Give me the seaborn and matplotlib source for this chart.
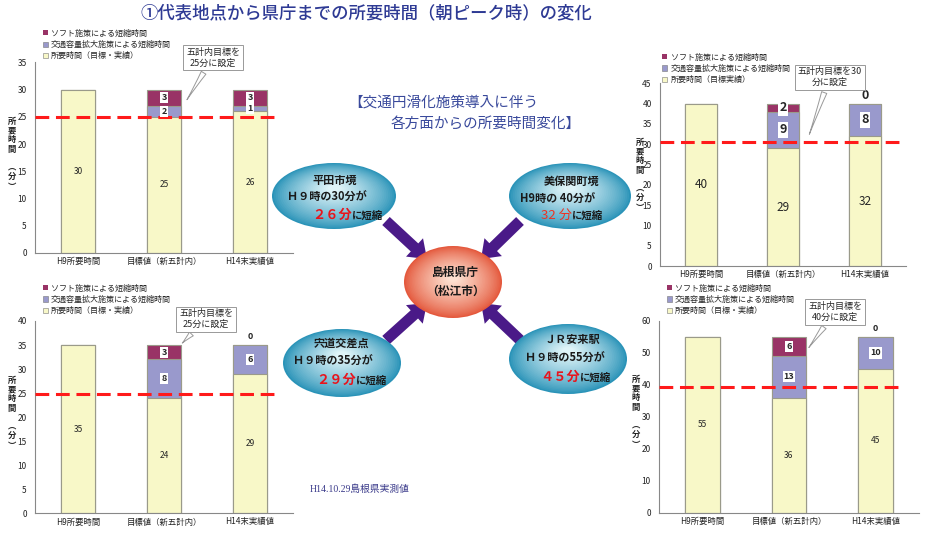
import numpy as np
import pandas as pd
import matplotlib
matplotlib.use("Agg")
import matplotlib.pyplot as plt
import seaborn as sns
from matplotlib.patches import Ellipse, Patch, FancyArrow
from matplotlib.colors import to_rgb

# データ
cats = ["H9所要時間", "目標値（新五計内）", "H14末実績値"]

hirata_base = [30, 25, 26]
hirata_cap = [0, 2, 1]
hirata_soft = [0, 3, 3]
hirata_goal = 25

mihoseki_base = [40, 29, 32]
mihoseki_cap = [0, 9, 8]
mihoseki_soft = [0, 2, 0]
mihoseki_goal = 30.5

shinji_base = [35, 24, 29]
shinji_cap = [0, 8, 6]
shinji_soft = [0, 3, 0]
shinji_goal = 24.8

yasugi_base = [55, 36, 45]
yasugi_cap = [0, 13, 10]
yasugi_soft = [0, 6, 0]
yasugi_goal = 39.3

leg_labels = ["ソフト施策による短縮時間", "交通容量拡大施策による短縮時間", "所要時間（目標・実績）"]

SOFT = "#993366"
CAP = "#9999cc"
BASE = "#f8f8c8"
EDGE = "#9a9a8a"

sns.set_style("white")
plt.rcParams["font.family"] = ["Noto Sans CJK JP", "DejaVu Sans"]

W, H = 931, 533
fig = plt.figure(figsize=(W / 100, H / 100), dpi=100)


def rect(x0, x1, ytop, ybot):
    return [x0 / W, (H - ybot) / H, (x1 - x0) / W, (ybot - ytop) / H]


def draw_chart(r, base, cap, soft, goal, ymax, ystep, note, note_pos, tip, line_end,
               leg_anchor, base_fs=6, seg_fs=6.5, leg3=None):
    ax = fig.add_axes(r)
    df = pd.DataFrame({"cat": cats, "base": base, "cap": cap, "soft": soft})
    df["mid"] = df["base"] + df["cap"]
    df["top"] = df["mid"] + df["soft"]
    for col, c in [("top", SOFT), ("mid", CAP), ("base", BASE)]:
        sns.barplot(data=df, x="cat", y=col, color=c, saturation=1, width=0.4,
                    edgecolor=EDGE, linewidth=0.8, errorbar=None, ax=ax)
    ax.set_xlim(-0.5, 2.5)
    ax.set_ylim(0, ymax)
    ax.set_yticks(np.arange(0, ymax + 1, ystep))
    ax.set_xlabel("")
    ax.set_ylabel("")
    ax.tick_params(axis="both", labelsize=6, length=0, pad=3, colors="#222222")
    ax.set_xticks([-0.5, 0.5, 1.5, 2.5], minor=True)
    ax.tick_params(axis="x", which="minor", length=3, color="#888888")
    ax.tick_params(axis="y", length=3, color="#888888")
    for s in ["top", "right"]:
        ax.spines[s].set_visible(False)
    for s in ["left", "bottom"]:
        ax.spines[s].set_color("#888888")
        ax.spines[s].set_linewidth(0.8)

    ax.axhline(goal, xmax=line_end, color="#ff1a1a", lw=2.2, ls=(0, (4.5, 2.2)), zorder=5)

    for i in range(3):
        ax.text(i, base[i] / 2, str(base[i]), ha="center", va="center", fontsize=base_fs)
        if i == 0:
            continue
        ax.text(i, base[i] + cap[i] / 2, str(cap[i]), ha="center", va="center",
                fontsize=seg_fs, fontweight="bold", zorder=6,
                bbox=dict(boxstyle="square,pad=0.12", fc="white", ec="none"))
        if soft[i] > 0:
            ax.text(i, base[i] + cap[i] + soft[i] / 2, str(soft[i]), ha="center", va="center",
                    fontsize=seg_fs, fontweight="bold", zorder=6,
                    bbox=dict(boxstyle="square,pad=0.12", fc="white", ec="none"))
        else:
            ax.text(i, base[i] + cap[i] + ymax * 0.045, "0", ha="center", va="center",
                    fontsize=seg_fs, fontweight="bold")

    ax.annotate(note, xy=tip, xycoords="data", xytext=note_pos, textcoords="axes fraction",
                ha="center", va="center", fontsize=6.5, annotation_clip=False,
                bbox=dict(boxstyle="square,pad=0.3", fc="white", ec="#999999", lw=0.7),
                arrowprops=dict(arrowstyle="wedge,tail_width=0.6,shrink_factor=0.4",
                                fc="white", ec="#999999", lw=0.7))

    labels = list(leg_labels)
    if leg3:
        labels[2] = leg3
    handles = [Patch(fc=SOFT, ec="none"), Patch(fc=CAP, ec="#777777", lw=0.4),
               Patch(fc=BASE, ec="#777777", lw=0.4)]
    ax.legend(handles, labels, loc="lower left", bbox_to_anchor=leg_anchor, frameon=False,
              fontsize=5.8, handlelength=0.6, handleheight=0.6, handletextpad=0.4,
              labelspacing=0.3, borderaxespad=0, borderpad=0)
    return ax


draw_chart(rect(35, 293, 62.3, 253), hirata_base, hirata_cap, hirata_soft, hirata_goal,
           35, 5, "五計内目標を\n25分に設定", (0.69, 1.025), (1.25, 27.7), 0.95, (0.03, 1.01))
draw_chart(rect(660, 906, 83.3, 266), mihoseki_base, mihoseki_cap, mihoseki_soft, mihoseki_goal,
           45, 5, "五計内目標を30\n分に設定", (0.69, 1.034), (1.31, 31.8), 0.99, (0.01, 0.995),
           base_fs=8.5, seg_fs=9, leg3="所要時間（目標実績）")
draw_chart(rect(35, 293, 321, 513.3), shinji_base, shinji_cap, shinji_soft, shinji_goal,
           40, 5, "五計内目標を\n25分に設定", (0.663, 1.01), (1.19, 35), 0.95, (0.03, 1.03))
draw_chart(rect(659, 919, 321, 512.7), yasugi_base, yasugi_cap, yasugi_soft, yasugi_goal,
           60, 10, "五計内目標を\n40分に設定", (0.677, 1.047), (1.21, 51), 0.94, (0.03, 1.03))

# 縦書きの軸ラベル
ylab = "所\n要\n時\n間\n\n︵\n分\n︶"
for x, y in [(12, 154), (640, 175), (12, 413), (636, 412)]:
    fig.text(x / W, 1 - y / H, ylab, ha="center", va="center", fontsize=6,
             linespacing=1.05, fontweight="bold", color="#222222")

# 中央の図
ov = fig.add_axes([0, 0, 1, 1])
ov.set_xlim(0, W)
ov.set_ylim(H, 0)
ov.axis("off")


def grad_ellipse(cx, cy, w, h, c_out, c_in, n=30, shift=(0.0, -0.12)):
    co = np.array(to_rgb(c_out))
    ci = np.array(to_rgb(c_in))
    for k in range(n):
        t = k / (n - 1)
        s = 1 - 0.9 * t
        col = co * (1 - t ** 0.8) + ci * t ** 0.8
        ov.add_patch(Ellipse((cx + shift[0] * w * t, cy + shift[1] * h * t), w * s, h * s,
                             fc=col, ec="none"))


# 矢印
arrows = [((386, 221), (427, 259)), ((520, 221), (481, 259)),
          ((386, 340), (427, 303)), ((520, 340), (481, 303))]
for (x0, y0), (x1, y1) in arrows:
    ov.add_patch(FancyArrow(x0, y0, x1 - x0, y1 - y0, width=11, head_width=25,
                            head_length=17, length_includes_head=True,
                            fc="#4a1a88", ec="none"))

teal_out, teal_in = "#2a93b8", "#dff4f8"
grad_ellipse(334, 196, 124, 66, teal_out, teal_in)
grad_ellipse(570, 196, 122, 66, teal_out, teal_in)
grad_ellipse(342, 363, 118, 68, teal_out, teal_in)
grad_ellipse(568, 359, 118, 70, teal_out, teal_in)
grad_ellipse(453, 282, 98, 72, "#e4583c", "#fde0d0", shift=(0.0, -0.05))

tk = dict(fontweight="bold", color="#1a1a1a", va="center")


def short_line(x, y, big, big_color="#e8141c", big_fs=9.5, weight="bold"):
    t = ov.text(x, y, big, ha="left", va="center", fontsize=big_fs, color=big_color,
                fontweight=weight)
    ov.annotate("に短縮", xy=(1, 0.45), xycoords=t, ha="left", va="center",
                fontsize=7.5, fontweight="bold", color="#1a1a1a")


ov.text(335, 180, "平田市境", ha="center", fontsize=8, **tk)
ov.text(287, 197, "Ｈ９時の30分が", ha="left", fontsize=8, **tk)
short_line(312, 215, "２６分")

ov.text(572, 181, "美保関町境", ha="center", fontsize=8, **tk)
ov.text(520, 199, "H9時の 40分が", ha="left", fontsize=8, **tk)
short_line(541, 215, "32 分", big_color="#ee3322", big_fs=9.5, weight="normal")

ov.text(342, 343, "宍道交差点", ha="center", fontsize=8, **tk)
ov.text(293, 361, "Ｈ９時の35分が", ha="left", fontsize=8, **tk)
short_line(316, 380, "２９分")

ov.text(572, 339, "ＪＲ安来駅", ha="center", fontsize=8, **tk)
ov.text(525, 358, "Ｈ９時の55分が", ha="left", fontsize=8, **tk)
short_line(540, 377, "４５分")

ov.text(455, 272, "島根県庁", ha="center", fontsize=8.5, **tk)
ov.text(456, 291, "（松江市）", ha="center", fontsize=8.5, **tk)

# タイトル・見出し
ov.text(366, 13, "①代表地点から県庁までの所要時間（朝ピーク時）の変化", ha="center", va="center",
        fontsize=12.5, color="#2e3a94", fontweight="medium")
ov.text(348, 103, "【交通円滑化施策導入に伴う", ha="left", va="center", fontsize=10.5, color="#3a4a9c")
ov.text(391, 125, "各方面からの所要時間変化】", ha="left", va="center", fontsize=10.5, color="#3a4a9c")
ov.text(310, 489, "H14.10.29島根県実測値", ha="left", va="center", fontsize=7,
        color="#3a3a8a", family=["Liberation Serif", "Noto Sans CJK JP"])

fig.savefig("out.png", dpi=100)
